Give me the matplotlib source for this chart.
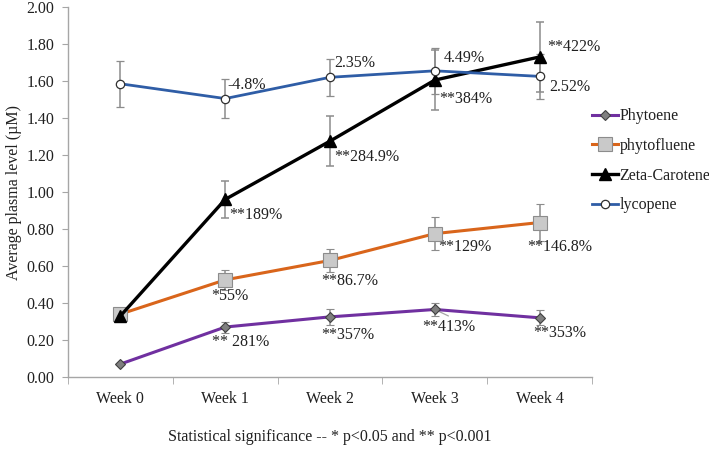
import matplotlib
matplotlib.use("Agg")
import matplotlib.pyplot as plt
from matplotlib.ticker import FixedLocator

plt.rcParams['font.family'] = ['Liberation Serif', 'DejaVu Serif']

weeks = ["Week 0", "Week 1", "Week 2", "Week 3", "Week 4"]

phytoene = [0.07, 0.27, 0.325, 0.365, 0.32]
phytoene_err = [0.0, 0.03, 0.045, 0.035, 0.04]
phytofluene = [0.34, 0.525, 0.63, 0.775, 0.835]
phytofluene_err = [0.03, 0.055, 0.06, 0.09, 0.10]
zeta = [0.33, 0.96, 1.275, 1.605, 1.73]
zeta_err = [0.0, 0.10, 0.135, 0.16, 0.19]
lycopene = [1.585, 1.505, 1.62, 1.655, 1.625]
lycopene_err = [0.125, 0.105, 0.10, 0.125, 0.12]

lyc_labels = ["", "-4.8%", "2.35%", "4.49%", "2.52%"]
zeta_labels = ["", "**189%", "**284.9%", "**384%", "**422%"]
phf_labels = ["", "*55%", "**86.7%", "**129%", "**146.8%"]
phy_labels = ["", "** 281%", "**357%", "**413%", "**353%"]

fig = plt.figure(figsize=(7.09, 4.49), dpi=100)
ax = fig.add_axes([68/709, 1-377/449, (592-68)/709, (377-7)/449])

x = list(range(len(weeks)))
ecol = '#8c8c8c'
ekw = dict(ecolor=ecol, elinewidth=1.1, capsize=3, capthick=1.1, zorder=3)

c1 = ax.errorbar(x, phytoene, yerr=phytoene_err, color='#7030A0', lw=2.2, marker='D', ms=5,
                 mfc='#7f7f7f', mec='#404040', mew=0.8, label='Phytoene', **ekw)
c2 = ax.errorbar(x, phytofluene, yerr=phytofluene_err, color='#D9651B', lw=2.2, marker='s', ms=9.5,
                 mfc='#c9c9c9', mec='#8c8c8c', mew=0.8, label='phytofluene', **ekw)
c3 = ax.errorbar(x, zeta, yerr=zeta_err, color='black', lw=2.4, marker='^', ms=8,
                 mfc='black', mec='black', label='Zeta-Carotene', **ekw)
c4 = ax.errorbar(x, lycopene, yerr=lycopene_err, color='#2F5DA6', lw=2.0, marker='o', ms=6,
                 mfc='white', mec='#303030', mew=0.9, label='lycopene', **ekw)

fs = 11.5
tcol = '#202020'
lyc_pos = [None, (0.02, 1.578), (0.04, 1.697), (0.09, 1.724), (0.09, 1.568)]
zeta_pos = [None, (0.04, 0.876), (0.04, 1.19), (0.04, 1.503), (0.07, 1.784)]
phf_pos = [None, (0.04, 0.438), (0.19, 0.519), (0.29, 0.703), (0.19, 0.703)]
phy_pos = [None, (0.145, 0.189), (0.17, 0.227), (0.13, 0.27), (0.19, 0.238)]

for labels, pos in [(lyc_labels, lyc_pos), (zeta_labels, zeta_pos)]:
    for i, (t, p) in enumerate(zip(labels, pos)):
        if t:
            ax.text(i + p[0], p[1], t, fontsize=fs, ha='left', va='center', color=tcol)
for labels, pos in [(phf_labels, phf_pos), (phy_labels, phy_pos)]:
    for i, (t, p) in enumerate(zip(labels, pos)):
        if t:
            ax.text(i + p[0], p[1], t, fontsize=fs, ha='center', va='center', color=tcol)

ax.annotate("", xy=(3, phytoene[3]), xytext=(3.13, phytoene[3] - 0.035),
            arrowprops=dict(arrowstyle='-', color='#a6a6a6', lw=0.9, shrinkA=0, shrinkB=2))

ax.set_xlim(-0.5, 4.5)
ax.set_ylim(0, 2.0)
ax.set_yticks([i * 0.2 for i in range(11)])
ax.set_yticklabels([f"{i*0.2:.2f}" for i in range(11)], fontsize=fs)
ax.set_xticks(x)
ax.set_xticklabels(weeks, fontsize=fs)
ax.xaxis.set_minor_locator(FixedLocator([i - 0.5 for i in range(6)]))
ax.tick_params(axis='x', which='major', length=0, pad=10)
ax.tick_params(axis='x', which='minor', length=5, color='#a6a6a6')
ax.tick_params(axis='y', length=4, color='#a6a6a6', pad=6, labelcolor=tcol)
ax.tick_params(axis='x', labelcolor=tcol)
for s in ['top', 'right']:
    ax.spines[s].set_visible(False)
for s in ['left', 'bottom']:
    ax.spines[s].set_color('#a6a6a6')
    ax.spines[s].set_linewidth(1.0)

ax.set_ylabel("Average plasma level (µM)", fontsize=fs, labelpad=3, color=tcol)
ax.set_xlabel("Statistical significance -- * p<0.05 and ** p<0.001", fontsize=fs,
              labelpad=16, color=tcol)

handles = [c[0] for c in (c1, c2, c3, c4)]
labs = ['Phytoene', 'phytofluene', 'Zeta-Carotene', 'lycopene']
fig.legend(handles, labs, loc='upper left', bbox_to_anchor=(586/709, 1-102/449),
           frameon=False, fontsize=fs, handlelength=1.6, handletextpad=0.1,
           labelspacing=0.85, borderaxespad=0, labelcolor=tcol)

fig.savefig("out.png", dpi=100)
